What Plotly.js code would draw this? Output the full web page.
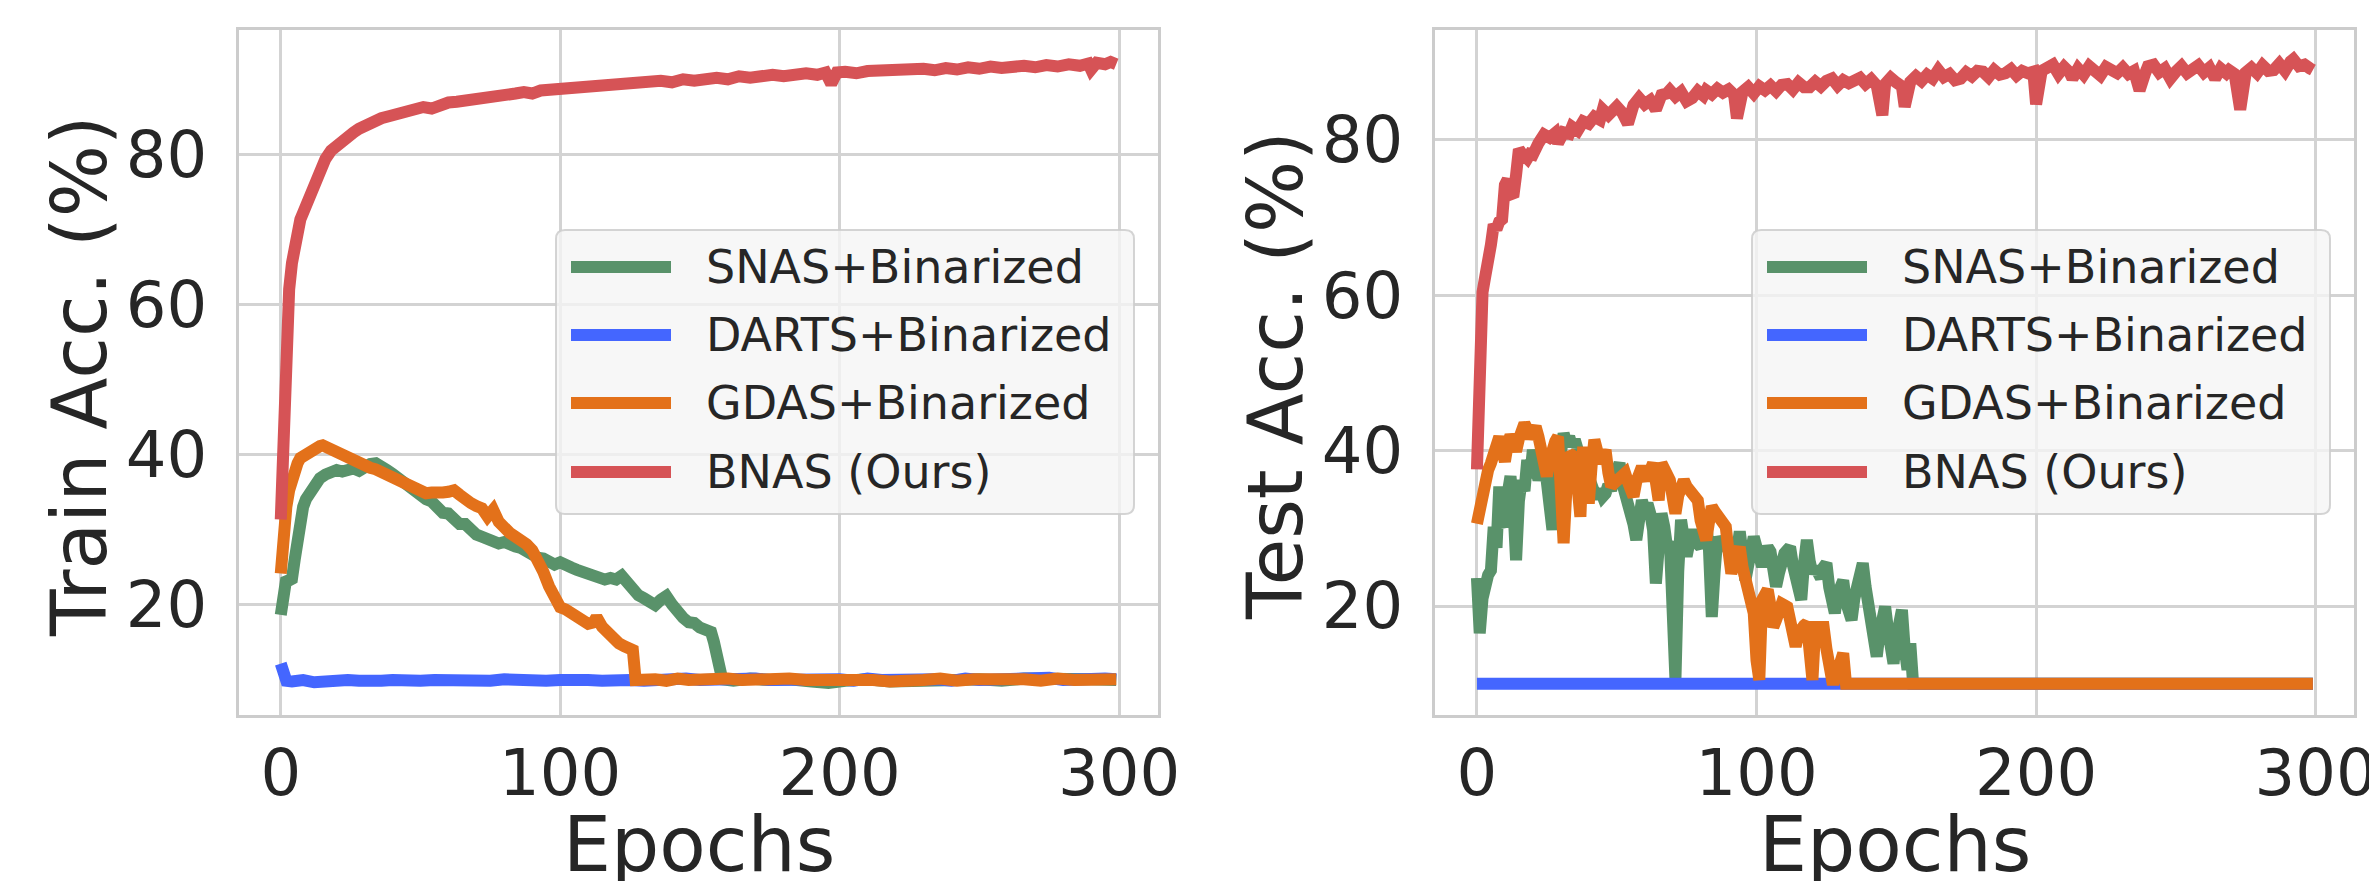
<!DOCTYPE html>
<html><head><meta charset="utf-8">
<script src="https://cdn.plot.ly/plotly-3.0.1.min.js"></script>
<style>html,body{margin:0;padding:0;background:#fff;}#chart{width:2369px;height:881px;}</style>
</head><body><div id="chart"></div>
<script>
// ---------- DATA (epoch, accuracy %) ----------
const seriesNames = ['SNAS+Binarized', 'DARTS+Binarized', 'GDAS+Binarized', 'BNAS (Ours)'];
const xTicks = [0, 100, 200, 300];
const yTicks = [20, 40, 60, 80];
const xTitle = 'Epochs';
const yTitleTrain = 'Train Acc. (%)';
const yTitleTest = 'Test Acc. (%)';

const trainSnas = [[0,18.6],[1,22.8],[2,23.5],[3,23.2],[4,23.4],[5,26.0],[6,29.0],[7,31.5],[8,33.0],[9,34.0],[10,34.6],[12,35.8],[14,36.8],[16,37.3],[18,37.6],[20,37.9],[22,37.7],[24,37.9],[26,38.1],[28,37.8],[30,38.3],[32,38.7],[34,38.8],[36,38.5],[38,37.9],[40,37.4],[42,36.8],[44,36.1],[46,35.7],[48,35.0],[50,34.5],[52,34.0],[54,33.7],[56,33.0],[58,32.2],[60,32.1],[62,31.3],[64,30.7],[66,30.7],[68,29.8],[70,29.3],[72,29.0],[74,28.6],[76,28.4],[78,28.1],[80,28.3],[82,27.8],[84,27.7],[86,27.5],[88,27.0],[90,26.5],[92,26.2],[94,26.1],[96,25.7],[98,25.3],[100,25.6],[102,25.0],[104,24.9],[106,24.6],[108,24.3],[110,24.2],[112,23.7],[114,23.4],[116,23.3],[118,23.5],[120,23.3],[122,23.8],[124,22.8],[126,22.0],[128,21.2],[130,20.8],[132,20.4],[134,19.9],[136,20.6],[138,21.1],[140,20.0],[142,18.9],[144,18.2],[146,17.6],[148,17.5],[150,16.9],[152,16.7],[154,16.3],[155,15.0],[156,13.0],[157,11.0],[158,10.0],[162,9.8],[168,10.1],[175,9.9],[182,10.0],[190,9.7],[196,9.5],[202,9.8],[210,10.0],[218,9.7],[226,9.9],[234,10.1],[242,9.9],[250,10.0],[258,9.8],[266,10.1],[274,10.2],[282,9.9],[290,10.0],[299,9.9]];

const trainDarts = [[0,12.1],[1,10.5],[2,9.8],[4,9.7],[8,9.9],[12,9.6],[16,9.8],[20,9.7],[24,9.9],[28,9.8],[32,9.6],[36,9.8],[40,9.9],[45,9.7],[50,9.8],[55,9.9],[60,9.8],[65,9.7],[70,9.9],[75,9.8],[80,10.0],[85,9.8],[90,9.9],[95,9.8],[100,9.9],[105,9.7],[110,9.9],[115,9.8],[120,10.0],[125,9.9],[130,9.8],[135,10.0],[140,9.9],[145,10.1],[150,9.9],[155,10.0],[160,9.8],[165,10.0],[170,10.1],[175,9.9],[180,10.0],[185,9.8],[190,10.1],[195,9.9],[200,10.0],[205,9.8],[210,10.1],[215,9.9],[220,10.0],[225,10.2],[230,9.9],[235,10.0],[240,9.8],[245,10.1],[250,9.9],[255,10.0],[260,10.1],[265,9.9],[270,10.0],[275,10.2],[280,9.9],[285,10.1],[290,10.0],[295,10.1],[299,10.0]];

const trainGdas = [[0,24.1],[1,29.9],[2,33.0],[3,35.2],[4,36.8],[5,38.0],[6,38.8],[7,39.5],[8,39.8],[9,40.1],[10,40.4],[12,40.8],[14,41.1],[15,41.2],[16,41.0],[18,40.7],[20,40.3],[22,39.8],[24,39.4],[26,39.0],[28,38.7],[30,38.5],[32,38.2],[34,38.0],[36,37.6],[38,37.2],[40,36.9],[42,36.7],[44,36.3],[46,36.0],[48,35.4],[50,34.9],[52,34.8],[54,34.9],[56,34.7],[58,34.9],[60,35.0],[62,35.2],[64,34.6],[66,33.9],[68,33.5],[70,33.1],[72,32.8],[74,31.7],[76,32.6],[78,31.0],[80,29.9],[82,29.5],[84,29.0],[86,28.6],[88,28.0],[90,27.2],[92,26.0],[94,24.3],[96,22.4],[98,20.5],[100,19.6],[102,19.3],[104,18.8],[106,18.2],[108,17.7],[110,17.4],[112,17.6],[113,18.3],[115,17.0],[117,16.1],[119,15.5],[121,14.8],[123,14.4],[125,14.0],[126,13.9],[127,9.9],[130,10.1],[134,10.0],[138,9.8],[142,10.1],[146,9.9],[150,10.0],[155,9.8],[160,10.1],[165,9.9],[170,10.0],[176,9.8],[182,10.1],[188,9.9],[194,10.0],[200,9.8],[206,10.1],[212,9.9],[218,9.7],[224,10.0],[230,9.9],[236,10.1],[242,9.8],[248,10.0],[254,10.1],[260,9.9],[266,10.0],[272,9.8],[278,10.1],[284,9.9],[290,10.0],[295,9.9],[299,10.0]];

const trainBnas = [[0,31.3],[1,47.0],[2,58.5],[3,62.0],[4,65.5],[5,68.0],[6,70.0],[7,71.3],[8,72.2],[9,73.2],[10,73.9],[11,75.0],[12,75.8],[13,76.6],[14,77.5],[15,78.5],[16,79.4],[18,80.5],[20,81.2],[22,81.8],[24,82.4],[26,82.9],[28,83.4],[30,83.8],[33,84.3],[36,84.8],[39,85.1],[42,85.5],[45,85.6],[48,86.0],[51,86.3],[54,86.1],[57,86.7],[60,86.9],[63,87.0],[66,87.1],[69,87.4],[72,87.6],[75,87.4],[78,87.9],[81,88.0],[84,88.1],[87,88.3],[90,88.1],[93,88.5],[96,88.6],[99,88.4],[102,88.8],[105,88.9],[108,88.7],[111,89.1],[114,89.0],[117,89.3],[120,89.1],[124,89.5],[128,89.3],[132,89.6],[136,89.8],[140,89.6],[144,90.0],[148,89.8],[152,90.1],[156,90.2],[160,90.0],[164,90.4],[168,90.2],[172,90.5],[176,90.6],[180,90.4],[184,90.7],[188,90.8],[192,90.6],[195,90.9],[197,89.4],[199,90.9],[202,91.0],[206,90.8],[210,91.1],[214,91.2],[218,91.0],[222,91.3],[226,91.1],[230,91.4],[234,91.2],[238,91.5],[242,91.3],[246,91.6],[250,91.4],[254,91.7],[258,91.5],[262,91.7],[266,91.8],[270,91.6],[274,91.9],[278,91.7],[282,92.0],[286,91.8],[289,92.1],[290,91.3],[292,92.2],[295,92.0],[297,92.3],[299,92.0]];

const testSnas = [[0,23.6],[1,16.5],[2,21.0],[3,23.8],[4,24.0],[5,24.6],[6,30.2],[7,27.5],[8,35.4],[9,31.0],[10,30.2],[11,34.5],[12,36.7],[13,33.0],[14,25.9],[15,33.5],[16,36.2],[17,34.8],[18,38.8],[19,36.5],[20,40.1],[21,38.0],[22,36.2],[23,37.8],[24,38.8],[25,36.0],[26,33.5],[27,29.8],[28,34.5],[29,37.1],[30,40.0],[31,42.2],[32,41.0],[33,41.8],[34,40.6],[35,41.4],[36,40.2],[37,39.8],[38,39.2],[39,37.6],[40,36.2],[41,35.0],[42,34.6],[43,33.9],[44,35.0],[45,34.1],[46,34.5],[47,35.6],[48,34.9],[49,36.4],[50,37.2],[51,38.4],[52,35.8],[53,34.6],[54,33.6],[55,32.8],[56,30.5],[57,28.5],[58,31.2],[59,33.6],[60,32.4],[61,33.2],[62,31.9],[63,29.8],[64,22.9],[65,27.2],[66,31.9],[67,30.2],[68,27.6],[69,28.3],[70,10.9],[71,10.6],[72,24.5],[73,31.1],[74,28.7],[75,26.4],[76,28.2],[77,29.8],[78,28.4],[79,27.9],[80,27.6],[81,29.1],[82,30.6],[83,27.2],[84,18.6],[85,24.4],[86,28.9],[87,28.0],[88,27.4],[89,28.1],[90,26.9],[91,26.2],[92,25.1],[93,27.0],[94,29.6],[95,26.8],[96,23.3],[97,25.2],[98,27.4],[99,28.9],[100,27.6],[101,25.9],[102,25.1],[103,26.6],[104,27.6],[105,27.0],[106,25.2],[107,22.5],[108,24.2],[109,25.8],[110,26.8],[111,27.2],[112,27.6],[113,25.3],[114,23.2],[115,21.6],[116,20.8],[117,25.5],[118,28.5],[119,25.8],[120,24.2],[121,25.0],[122,24.2],[123,23.6],[124,25.0],[125,25.5],[126,22.4],[127,20.2],[128,19.1],[129,21.5],[130,22.6],[131,23.3],[132,20.5],[133,19.0],[134,18.2],[135,21.0],[136,23.3],[137,24.5],[138,25.5],[139,22.5],[140,19.9],[141,18.0],[142,15.2],[143,13.5],[144,16.5],[145,18.6],[146,19.9],[147,17.0],[148,14.0],[149,12.6],[150,15.8],[151,18.6],[152,19.5],[153,14.5],[154,11.8],[155,15.2],[156,10.0],[160,10.0],[200,10.0],[250,10.0],[299,10.0]];

const testDarts = [[0,10.0],[50,10.0],[100,10.0],[150,10.0],[200,10.0],[250,10.0],[299,10.0]];

const testGdas = [[0,30.6],[1,32.8],[2,34.8],[3,36.7],[4,37.5],[5,38.4],[6,40.0],[7,40.6],[8,41.8],[9,40.0],[10,38.6],[11,40.8],[12,42.0],[13,41.2],[14,39.9],[15,41.5],[16,42.5],[17,43.5],[18,42.8],[19,41.6],[20,42.4],[21,43.1],[22,41.8],[23,40.1],[24,38.5],[25,36.7],[26,38.8],[27,40.5],[28,41.2],[29,41.8],[30,36.0],[31,28.1],[32,35.0],[33,39.7],[34,39.4],[35,39.2],[36,35.5],[37,31.5],[38,40.5],[39,37.0],[40,33.2],[41,38.0],[42,41.4],[43,40.0],[44,38.4],[45,39.2],[46,40.1],[47,37.2],[48,35.4],[49,35.8],[50,36.2],[51,36.5],[52,37.0],[53,37.1],[54,36.0],[55,35.2],[56,34.1],[57,36.0],[58,37.0],[59,37.9],[60,37.0],[61,36.2],[62,37.5],[63,38.4],[64,36.0],[65,33.6],[66,38.4],[67,37.5],[68,36.8],[69,36.2],[70,34.0],[71,31.9],[72,34.2],[73,35.8],[74,36.2],[75,35.4],[76,34.9],[77,34.6],[78,34.0],[79,33.6],[80,31.0],[81,29.2],[82,28.5],[83,30.8],[84,32.8],[85,32.2],[86,31.8],[87,31.5],[88,30.8],[89,30.2],[90,27.0],[91,24.2],[92,25.5],[93,26.8],[94,27.6],[95,25.0],[96,23.4],[97,22.5],[98,20.5],[99,19.1],[100,13.0],[101,10.5],[102,20.8],[103,21.5],[104,22.1],[105,20.0],[106,17.3],[107,18.2],[108,19.5],[109,20.3],[110,20.1],[111,19.9],[112,18.2],[113,16.0],[114,14.8],[115,16.5],[116,17.3],[117,17.5],[118,17.8],[119,14.0],[120,10.5],[121,17.3],[122,17.3],[123,17.2],[124,17.3],[125,14.5],[126,10.5],[127,10.5],[128,10.5],[129,12.0],[130,13.5],[131,13.9],[132,10.0],[140,10.0],[180,10.0],[220,10.0],[260,10.0],[299,10.0]];

const testBnas = [[0,37.6],[1,53.0],[2,60.4],[3,62.5],[4,64.0],[5,66.5],[6,69.1],[7,68.5],[8,69.5],[9,69.8],[10,74.2],[11,74.9],[12,73.0],[13,72.7],[14,75.5],[15,78.8],[16,78.3],[17,78.0],[18,77.6],[19,78.2],[20,78.1],[22,79.6],[24,80.7],[26,80.3],[28,80.9],[29,79.6],[31,81.0],[33,80.8],[34,81.7],[36,81.2],[38,82.4],[40,82.1],[42,83.0],[44,82.6],[45,83.9],[47,83.2],[49,84.0],[50,84.3],[52,83.5],[54,82.1],[56,84.5],[58,85.4],[60,84.6],[62,85.1],[64,83.9],[66,85.8],[68,86.0],[69,86.4],[71,85.6],[73,86.2],[75,85.0],[77,85.4],[79,86.3],[81,85.7],[82,86.4],[84,85.9],[86,86.6],[88,86.1],[90,86.5],[92,85.8],[93,82.8],[95,86.2],[97,86.8],[99,86.0],[101,86.9],[103,86.4],[105,87.0],[107,86.3],[109,87.1],[111,87.2],[113,86.5],[115,87.4],[117,86.8],[119,86.8],[121,87.5],[123,86.9],[125,87.6],[127,87.9],[129,87.0],[131,87.7],[133,87.3],[135,87.5],[137,88.0],[139,87.2],[141,87.8],[143,87.0],[145,83.2],[146,87.2],[148,88.0],[150,87.4],[152,86.9],[153,84.3],[155,87.5],[157,88.2],[159,87.6],[161,88.4],[163,87.9],[165,89.0],[167,88.1],[169,88.5],[171,87.7],[173,87.9],[175,88.7],[177,88.2],[179,88.9],[181,88.8],[183,88.1],[185,89.0],[187,88.4],[189,88.6],[191,89.1],[193,88.3],[195,88.9],[197,88.6],[199,88.8],[200,84.6],[202,88.9],[204,89.3],[206,89.7],[208,88.5],[210,89.4],[212,88.7],[213,87.9],[215,89.2],[217,88.4],[219,89.5],[221,89.0],[223,88.3],[225,89.4],[227,88.8],[229,88.6],[231,89.3],[233,88.5],[235,88.9],[237,86.4],[239,88.6],[240,89.5],[242,89.7],[244,88.7],[246,89.2],[248,87.9],[250,88.8],[252,89.5],[254,88.6],[256,89.0],[258,89.6],[260,88.7],[262,89.3],[264,87.9],[266,89.2],[268,88.6],[269,89.0],[271,88.5],[273,83.9],[275,88.7],[277,89.3],[279,88.6],[281,89.6],[283,88.9],[285,89.0],[287,89.8],[289,88.9],[291,90.1],[292,90.4],[294,89.5],[296,89.7],[298,89.2],[299,89.0]];

// ---------- STYLE ----------
const W = 2369, H = 881;
const FONT = 'DejaVu Sans';
const TXT = '#262626';
const seriesColors = ['#59926a', '#4466ff', '#e3711a', '#d65356'];
const px = v => v / W;
const py = v => 1 - v / H;

function trace(pts, i, xa, ya) {
  return {
    type: 'scatter', mode: 'lines', name: seriesNames[i],
    x: pts.map(p => p[0]), y: pts.map(p => p[1]),
    xaxis: xa, yaxis: ya, showlegend: false, hoverinfo: 'skip',
    line: { color: seriesColors[i], width: 12 }
  };
}

const data = [
  trace(trainSnas, 0, 'x', 'y'), trace(trainDarts, 1, 'x', 'y'),
  trace(trainGdas, 2, 'x', 'y'), trace(trainBnas, 3, 'x', 'y'),
  trace(testSnas, 0, 'x2', 'y2'), trace(testDarts, 1, 'x2', 'y2'),
  trace(testGdas, 2, 'x2', 'y2'), trace(testBnas, 3, 'x2', 'y2')
];

const axBase = {
  showgrid: true, gridcolor: '#d3d3d3', gridwidth: 2.5, zeroline: false,
  showline: true, linecolor: '#cccccc', linewidth: 3, mirror: true,
  ticks: '', tickfont: { family: FONT, size: 64, color: TXT }, fixedrange: true
};
const xBase = Object.assign({}, axBase, { ticklabelstandoff: 0, ticklabeloverflow: 'allow' });
const yBase = Object.assign({}, axBase, { ticklabelstandoff: 16 });
const titleFont = { family: FONT, size: 76, color: TXT };

const shapes = [], annotations = [];

// axis titles (placed like the reference)
function axisTitles(left, right, yTitle, yTitleX) {
  annotations.push({ xref: 'paper', yref: 'paper', x: px((left + right) / 2), y: py(844),
    xanchor: 'center', yanchor: 'middle', text: xTitle, showarrow: false, font: titleFont });
  annotations.push({ xref: 'paper', yref: 'paper', x: px(yTitleX), y: py(376), textangle: -90,
    xanchor: 'center', yanchor: 'middle', text: yTitle, showarrow: false, font: titleFont });
}
axisTitles(239, 1158, yTitleTrain, 79);
axisTitles(1435, 2354, yTitleTest, 1275);

// custom legend (long line keys like the reference)
function roundRect(l, t, r, b, rad) {
  const X = v => px(v).toFixed(6), Y = v => py(v).toFixed(6);
  return 'M' + X(l + rad) + ',' + Y(t) + ' L' + X(r - rad) + ',' + Y(t) +
    ' Q' + X(r) + ',' + Y(t) + ' ' + X(r) + ',' + Y(t + rad) +
    ' L' + X(r) + ',' + Y(b - rad) + ' Q' + X(r) + ',' + Y(b) + ' ' + X(r - rad) + ',' + Y(b) +
    ' L' + X(l + rad) + ',' + Y(b) + ' Q' + X(l) + ',' + Y(b) + ' ' + X(l) + ',' + Y(b - rad) +
    ' L' + X(l) + ',' + Y(t + rad) + ' Q' + X(l) + ',' + Y(t) + ' ' + X(l + rad) + ',' + Y(t) + ' Z';
}
function addLegend(left, top) {
  const w = 578, h = 284;
  shapes.push({ type: 'path', xref: 'paper', yref: 'paper', path: roundRect(left, top, left + w, top + h, 9),
    fillcolor: 'rgba(245,245,245,0.8)', line: { color: 'rgba(204,204,204,0.85)', width: 2 }, layer: 'above' });
  const rows = [37, 105, 173, 242];
  seriesNames.forEach((n, i) => {
    const yy = py(top + rows[i]);
    shapes.push({ type: 'line', xref: 'paper', yref: 'paper', x0: px(left + 15), x1: px(left + 115), y0: yy, y1: yy,
      line: { color: seriesColors[i], width: 12 }, layer: 'above' });
    annotations.push({ xref: 'paper', yref: 'paper', x: px(left + 148), y: yy, xanchor: 'left', yanchor: 'middle',
      text: n, showarrow: false, font: { family: FONT, size: 46, color: TXT } });
  });
}
addLegend(556, 230);
addLegend(1752, 230);

const layout = {
  width: W, height: H, margin: { l: 0, r: 0, t: 0, b: 0 },
  paper_bgcolor: '#ffffff', plot_bgcolor: '#ffffff', showlegend: false,
  font: { family: FONT, color: TXT },
  xaxis: Object.assign({}, xBase, { domain: [239 / W, 1158 / W], range: [-14.95, 313.95], tickvals: xTicks, anchor: 'y' }),
  yaxis: Object.assign({}, yBase, { domain: [1 - 715 / H, 1 - 30 / H], range: [5.24, 96.57], tickvals: yTicks, anchor: 'x' }),
  xaxis2: Object.assign({}, xBase, { domain: [1435 / W, 2354 / W], range: [-15.0, 313.7], tickvals: xTicks, anchor: 'y2' }),
  yaxis2: Object.assign({}, yBase, { domain: [1 - 715 / H, 1 - 30 / H], range: [5.97, 94.16], tickvals: yTicks, anchor: 'x2' }),
  shapes: shapes, annotations: annotations
};

Plotly.newPlot('chart', data, layout, { displayModeBar: false, responsive: false });
</script>
</body></html>
